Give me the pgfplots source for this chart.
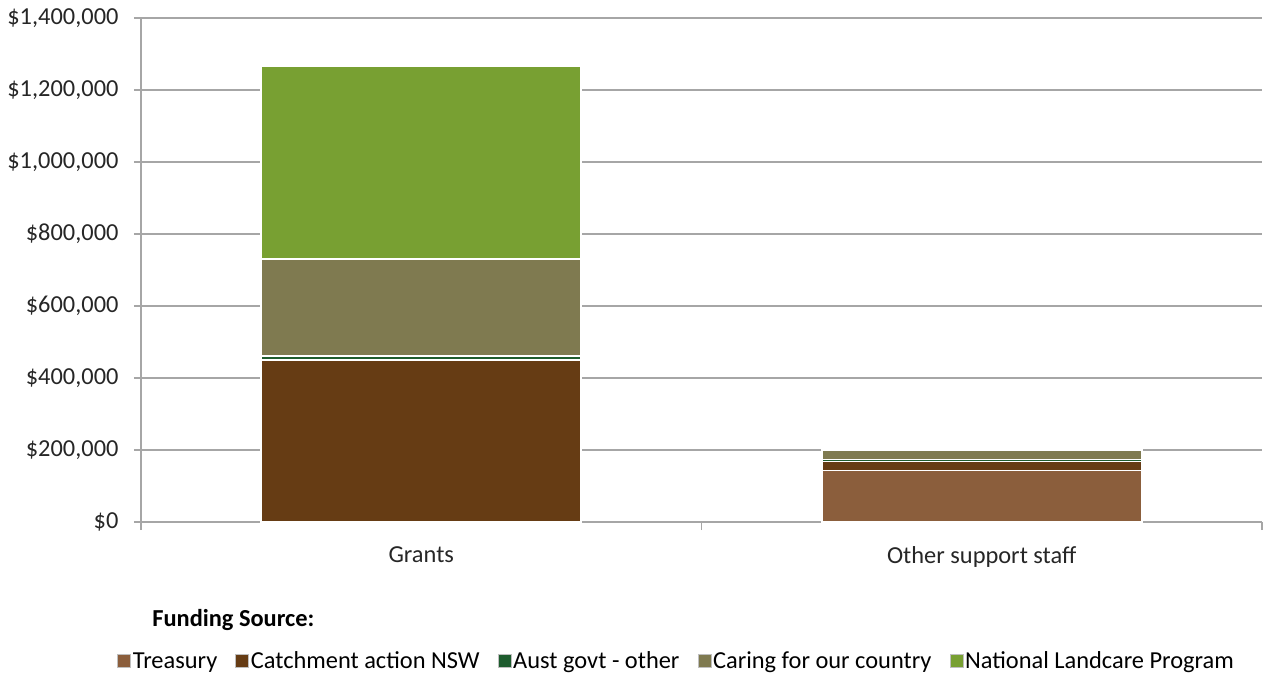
\documentclass[border=0pt]{standalone}
\usepackage{pgfplots}
\pgfplotsset{compat=1.18}
\usepackage{fontspec}
\setmainfont{Carlito}
\definecolor{treas}{HTML}{8B5E3C}
\definecolor{catch}{HTML}{663C14}
\definecolor{aust}{HTML}{1E5C2E}
\definecolor{caring}{HTML}{7F7A50}
\definecolor{nlp}{HTML}{78A032}
\definecolor{gridc}{HTML}{A6A6A6}
\begin{document}
\begin{tikzpicture}[x=1pt,y=1pt]
\path[use as bounding box] (0,0) rectangle (1263,675);
\begin{axis}[
  at={(141pt,153pt)}, anchor=south west,
  scale only axis, width=1121pt, height=504pt,
  ybar stacked, bar width=320pt,
  xmin=-0.5, xmax=1.5, ymin=0, ymax=1400000,
  scaled y ticks=false,
  xtick={0,1}, xticklabels={Grants,Other support staff},
  minor xtick={-0.5,0.5,1.5},
  major x tick style={draw=none},
  minor tick length=8pt,
  ytick={0,200000,400000,600000,800000,1000000,1200000,1400000},
  yticklabels={{\$0},{\$200,000},{\$400,000},{\$600,000},{\$800,000},{\$1,000,000},{\$1,200,000},{\$1,400,000}},
  ymajorgrids, grid style={gridc, line width=1.3pt},
  axis x line*=bottom, axis y line*=left,
  axis line style={gridc, line width=1.3pt},
  tick style={gridc, line width=1.3pt},
  major tick length=7pt,
  tick align=outside,
  y axis line style={-}, x axis line style={-},
  every tick label/.append style={font=\fontsize{24.4}{29}\selectfont, text=black!85},
  xticklabel style={yshift=-14pt},
  yticklabel style={xshift=-12pt},
  legend style={at={(-0.024,-0.276)}, anchor=west, draw=none, fill=none,
     font=\fontsize{24.4}{29}\selectfont, legend columns=5,
     /tikz/every even column/.append style={column sep=16pt}},
  legend cell align=left,
  legend image code/.code={\draw[#1,draw=gray!50,line width=0.6pt] (-2pt,-6.5pt) rectangle (11pt,6.5pt);},
  every axis plot/.append style={draw=white, line width=1.6pt},
  clip=false,
]
\addplot[fill=treas] coordinates {(0,0) (1,143000)};
\addplot[fill=catch] coordinates {(0,450000) (1,25000)};
\addplot[fill=aust] coordinates {(0,11000) (1,6000)};
\addplot[fill=caring] coordinates {(0,270000) (1,26000)};
\addplot[fill=nlp] coordinates {(0,536000) (1,0)};
\legend{Treasury,Catchment action NSW,Aust govt - other,Caring for our country,National Landcare Program}
\node[anchor=west, font=\bfseries\fontsize{24.4}{29}\selectfont] at (rel axis cs:0.007,-0.194) {Funding Source:};
\end{axis}
\end{tikzpicture}
\end{document}
